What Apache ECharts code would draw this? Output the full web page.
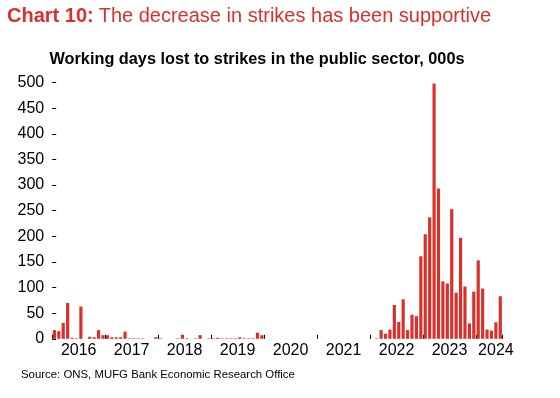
<!DOCTYPE html>
<html>
<head>
<meta charset="utf-8">
<script src="https://cdn.jsdelivr.net/npm/echarts@6/dist/echarts.min.js"></script>
<style>
  html, body { margin: 0; padding: 0; background: #fff; }
  #container { width: 560px; height: 398px; }
</style>
</head>
<body>
<div id="container"></div>
<script>
// monthly, Jan 2016 .. Jun 2024, working days lost (000s)
var years = ['2016', '2017', '2018', '2019', '2020', '2021', '2022', '2023', '2024'];
var v2016 = [17, 15, 31, 70, 2, 1, 63, 0, 4, 3, 17, 7];
var v2017 = [7, 3, 3, 3, 14, 1, 1, 1, 1, 0, 0, 3];
var v2018 = [1, 0, 0, 0, 1, 8, 1, 0, 1, 7, 0, 1];
var v2019 = [1, 2, 1, 1, 1, 1, 3, 1, 1, 1, 12, 7];
var v2020 = [0, 0, 0, 0, 0, 0, 0, 0, 0, 0, 0, 0];
var v2021 = [0, 0, 0, 0, 0, 0, 0, 0, 0, 0, 0, 0];
var v2022 = [0, 1, 17, 10, 18, 66, 33, 77, 17, 47, 44, 161];
var v2023 = [204, 237, 498, 293, 112, 108, 253, 90, 197, 102, 30, 92];
var v2024 = [153, 98, 18, 16, 32, 83];
var yTicks = [0, 50, 100, 150, 200, 250, 300, 350, 400, 450, 500];

var yearData = [v2016, v2017, v2018, v2019, v2020, v2021, v2022, v2023, v2024];
var months = [];
var values = [];
yearData.forEach(function (arr, yi) {
  arr.forEach(function (v, mi) {
    months.push(years[yi] + '-' + (mi + 1));
    values.push(v);
  });
});

var red = '#d9302b';
var font = 'Liberation Sans, Arial, sans-serif';
var dom = document.getElementById('container');
var myChart = echarts.init(dom, null, { renderer: 'canvas' });

var option = {
  backgroundColor: '#fff',
  animation: false,
  textStyle: { fontFamily: font },
  title: [
    {
      text: '{b|Chart 10:} {r|The decrease in strikes has been supportive}',
      left: 7,
      top: 6,
      padding: 0,
      textStyle: {
        rich: {
          b: { fontSize: 20, fontWeight: 'bold', color: red, fontFamily: font },
          r: { fontSize: 20, fontWeight: 'normal', color: red, fontFamily: font }
        }
      }
    },
    {
      text: 'Working days lost to strikes in the public sector, 000s',
      left: 257,
      textAlign: 'center',
      top: 52,
      padding: 0,
      textStyle: { fontSize: 16.3, fontWeight: 'bold', color: '#000', fontFamily: font }
    },
    {
      text: 'Source: ONS, MUFG Bank Economic Research Office',
      left: 21,
      top: 369,
      padding: 0,
      textStyle: { fontSize: 11.4, fontWeight: 'normal', color: '#000', fontFamily: font }
    }
  ],
  grid: { left: 52.2, right: 57.5, top: 82.5, bottom: 59.2, containLabel: false },
  xAxis: {
    type: 'category',
    data: months,
    boundaryGap: true,
    axisLine: { show: false },
    axisTick: {
      show: true,
      inside: true,
      length: 4,
      interval: function (index) { return index % 12 === 0; },
      lineStyle: { color: '#000', width: 1 }
    },
    axisLabel: {
      interval: function (index) { return index % 12 === 5 || index === 100; },
      margin: 4,
      fontSize: 16,
      color: '#000',
      fontFamily: font,
      formatter: function (value) {
        var y = value.split('-')[0];
        if (y === '2024') return y;
        return '{s|' + y + '}';
      },
      rich: {
        s: { fontSize: 16, color: '#000', fontFamily: font, padding: [0, 0, 0, 4.4] }
      }
    },
    splitLine: { show: false }
  },
  yAxis: {
    type: 'value',
    min: yTicks[0],
    max: yTicks[yTicks.length - 1],
    interval: 50,
    axisLine: { show: false },
    axisTick: { show: true, inside: true, length: 4, lineStyle: { color: '#000', width: 1 } },
    axisLabel: { margin: 8, fontSize: 16, color: '#000', fontFamily: font },
    splitLine: { show: false }
  },
  series: [
    {
      type: 'bar',
      data: values,
      barWidth: '72%',
      itemStyle: { color: red }
    }
  ]
};

myChart.setOption(option);
window.addEventListener('resize', myChart.resize);
</script>
</body>
</html>
